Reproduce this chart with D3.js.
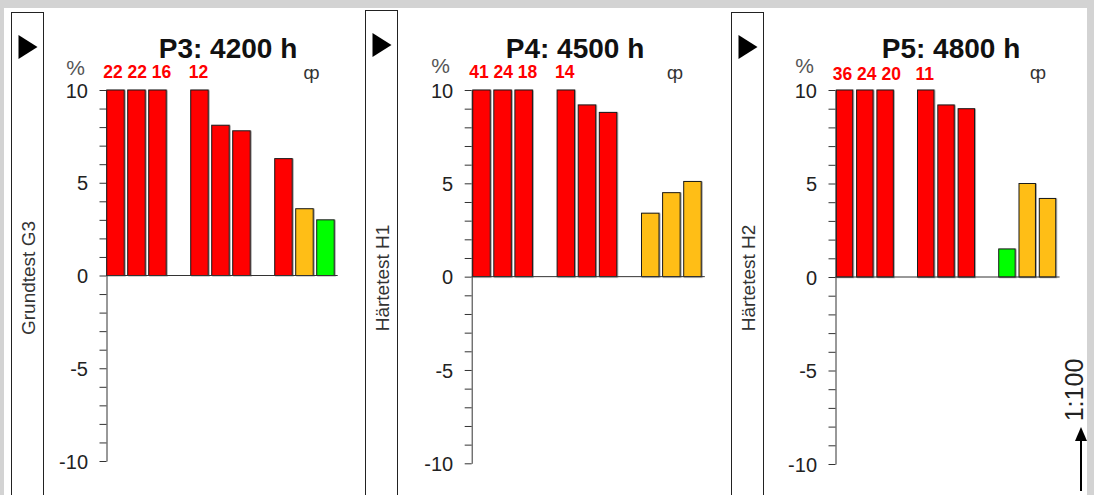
<!DOCTYPE html>
<html>
<head>
<meta charset="utf-8">
<script src="https://cdn.jsdelivr.net/npm/d3@7"></script>
<style>
  html, body { margin: 0; padding: 0; background: #d3d3d3; }
  svg { display: block; font-family: "Liberation Sans", Arial, sans-serif; }
</style>
</head>
<body>
<svg id="chart" width="1094" height="495"></svg>
<script>
// ---------- DATA ----------
const titles = ["P3: 4200 h", "P4: 4500 h", "P5: 4800 h"];
const sideLabels = ["Grundtest G3", "Härtetest H1", "Härtetest H2"];
const slots = ["a1", "a2", "a3", "gap1", "b1", "b2", "b3", "gap2", "c1", "c2", "c3"];
const groups = [["a1", "a2", "a3"], ["b1", "b2", "b3"], ["c1", "c2", "c3"]];
const valuesP3 = [22, 22, 16, null, 12, 8.1, 7.8, null, 6.3, 3.6, 3.0];
const valuesP4 = [41, 24, 18, null, 14, 9.2, 8.8, null, 3.4, 4.5, 5.1];
const valuesP5 = [36, 24, 20, null, 11, 9.2, 9.0, null, 1.5, 5.0, 4.2];
const panelValues = [valuesP3, valuesP4, valuesP5];
const yDomain = [-10, 10];
const yTicks = d3.range(-10, 11);
const yTickLabels = [-10, -5, 0, 5, 10];
const unitLabel = "%";
const symbolLabel = "ȹ";
const scaleLabel = "1:100";
const colorThresholds = [3.2, 6];

// ---------- LAYOUT ----------
const layout = [
  {box: 11,  boxTop: 12, axisX: 106.5, x0: 106.7, step: 21.0, pad: 0.167, yTop: 90, yBot: 461,   titleX: 228, pctY: 75, labY: 77.5, qpX: 311.5},
  {box: 365, boxTop: 10, axisX: 471.7, x0: 472.7, step: 21.1, pad: 0.17,  yTop: 90, yBot: 463.3, titleX: 575, pctY: 73, labY: 77.5, qpX: 675},
  {box: 731, boxTop: 12, axisX: 835.5, x0: 836.3, step: 20.3, pad: 0.19,  yTop: 90, yBot: 464,   titleX: 951, pctY: 73, labY: 80,   qpX: 1038}
];

const colorScale = d3.scaleThreshold().domain(colorThresholds).range(["#00ff00", "#ffbe14", "#ff0000"]);

const svg = d3.select("#chart");
svg.append("rect").attr("x", 0).attr("y", 0).attr("width", 1094).attr("height", 495).attr("fill", "#d3d3d3");
svg.append("rect").attr("x", 4).attr("y", 8).attr("width", 1083).attr("height", 487).attr("fill", "#ffffff");

const defs = svg.append("defs");
const f = defs.append("filter").attr("id", "shadow").attr("x", "-20%").attr("y", "-20%").attr("width", "140%").attr("height", "140%");
f.append("feDropShadow").attr("dx", 1).attr("dy", 0.5).attr("stdDeviation", 0.6).attr("flood-color", "#000").attr("flood-opacity", 0.35);

layout.forEach((L, i) => {
  const vals = panelValues[i];
  const g = svg.append("g");

  // side box with triangle and rotated label
  g.append("rect").attr("x", L.box + 0.5).attr("y", L.boxTop + 0.5).attr("width", 32).attr("height", 500)
    .attr("fill", "#fff").attr("stroke", "#222").attr("stroke-width", 1);
  const tx = L.box + 7.5, ty = L.boxTop + 23;
  g.append("path").attr("d", `M${tx},${ty} L${tx + 19},${ty + 12} L${tx},${ty + 24} Z`).attr("fill", "#000");
  g.append("text").attr("transform", `translate(${L.box + 24},278) rotate(-90)`)
    .attr("text-anchor", "middle").attr("font-size", 19).attr("fill", "#333").text(sideLabels[i]);

  // scales
  const x = d3.scaleBand().domain(slots).range([L.x0, L.x0 + L.step * (slots.length - L.pad)])
    .paddingInner(L.pad).paddingOuter(0);
  const y = d3.scaleLinear().domain(yDomain).range([L.yBot, L.yTop]);

  // title
  g.append("text").attr("x", L.titleX).attr("y", 57.5).attr("text-anchor", "middle")
    .attr("font-size", 28).attr("font-weight", "bold").attr("fill", "#111").text(titles[i]);
  // unit
  g.append("text").attr("x", L.axisX - 31).attr("y", L.pctY).attr("text-anchor", "middle")
    .attr("font-size", 21).attr("fill", "#555").text(unitLabel);
  // symbol
  g.append("text").attr("x", L.qpX).attr("y", 79).attr("text-anchor", "middle")
    .attr("font-size", 18).attr("fill", "#333").text(symbolLabel);

  // axis
  const axis = d3.axisLeft(y).tickValues(yTicks).tickSize(7).tickSizeOuter(0).tickPadding(11.5)
    .tickFormat(d => yTickLabels.includes(d) ? String(d) : "");
  const ag = g.append("g").attr("transform", `translate(${L.axisX},0)`).call(axis);
  ag.selectAll("path, line").attr("stroke", "#333");
  ag.selectAll("text").attr("font-size", 20).attr("fill", "#222")
    .attr("font-family", "'Liberation Sans', Arial, sans-serif").attr("dy", "0.36em");

  // bars
  const valueOf = s => vals[slots.indexOf(s)];
  const data = slots.map((s, k) => ({slot: s, v: vals[k]})).filter(d => d.v !== null);
  g.append("g").selectAll("rect").data(data).join("rect")
    .attr("x", d => x(d.slot))
    .attr("width", x.bandwidth())
    .attr("y", d => y(Math.min(d.v, yDomain[1])))
    .attr("height", d => y(0) - y(Math.min(d.v, yDomain[1])))
    .attr("fill", d => colorScale(d.v))
    .attr("stroke", "#1a1a1a").attr("stroke-width", 1)
    .attr("filter", "url(#shadow)");

  // zero line
  g.append("line").attr("x1", L.axisX).attr("x2", x(slots[slots.length - 1]) + x.step())
    .attr("y1", y(0)).attr("y2", y(0)).attr("stroke", "#333").attr("stroke-width", 1);

  // overflow labels: one text line per group, values above the axis maximum
  const groupLabels = groups.map((grp, gi) => ({
    first: grp[0],
    gi: gi,
    text: grp.map(valueOf).filter(v => v > yDomain[1]).join(" ")
  })).filter(d => d.text.length > 0);
  g.append("g").selectAll("text").data(groupLabels).join("text")
    .attr("x", d => x(d.first) - (d.gi === 0 ? 3.5 : 2))
    .attr("y", L.labY).attr("text-anchor", "start")
    .attr("font-size", 17.5).attr("font-weight", "bold").attr("fill", "#ff0000")
    .attr("xml:space", "preserve")
    .text(d => d.text);
});

// scale arrow
svg.append("line").attr("x1", 1081).attr("x2", 1081).attr("y1", 491).attr("y2", 436).attr("stroke", "#000").attr("stroke-width", 2);
svg.append("path").attr("d", "M1081,427 L1075,441 L1087,441 Z").attr("fill", "#000");
svg.append("text").attr("transform", "translate(1083,390) rotate(-90)").attr("text-anchor", "middle")
  .attr("font-size", 25).attr("fill", "#222").text(scaleLabel);
</script>
</body>
</html>
